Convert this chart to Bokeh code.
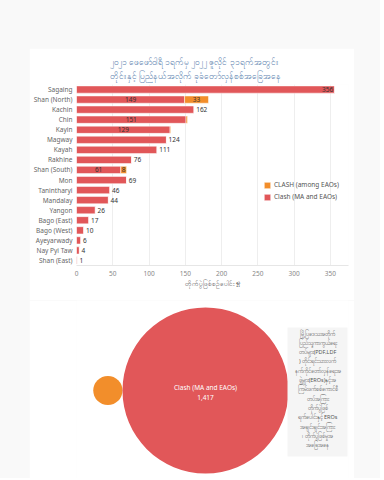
from bokeh.plotting import figure
from bokeh.models import (FactorRange, Range1d, ColumnDataSource, Legend, LegendItem,
                          Spacer, FixedTicker)
from bokeh.layouts import column, row
from bokeh.core.properties import value
from bokeh.embed import file_html
from bokeh.resources import INLINE

# ---------------- data ----------------
regions = ["Sagaing", "Shan (North)", "Kachin", "Chin", "Kayin", "Magway", "Kayah",
           "Rakhine", "Shan (South)", "Mon", "Tanintharyi", "Mandalay", "Yangon",
           "Bago (East)", "Bago (West)", "Ayeyarwady", "Nay Pyi Taw", "Shan (East)"]
clash_ma = [356, 149, 162, 151, 129, 124, 111, 76, 61, 69, 46, 44, 26, 17, 10, 6, 4, 1]
clash_eao = [0, 33, 0, 2, 1, 0, 0, 0, 8, 0, 0, 0, 0, 0, 0, 0, 0, 0]
series_names = ["CLASH (among EAOs)", "Clash (MA and EAOs)"]
bubble_values = [44, 1417]
x_ticks = [0, 50, 100, 150, 200, 250, 300, 350]

title_text = ("၂၀၂၁ ဖေဖော်ဝါရီ ၁ရက်မှ ၂၀၂၂ ဇူလိုင် ၃၁ရက်အတွင်း\n"
              "တိုင်းနှင့် ပြည်နယ်အလိုက်  ခုခံတော်လှန်စစ်အခြေအနေ")
x_label = "တိုက်ပွဲဖြစ်စဉ်ပေါင်း ፳"
note_lines = ["မြို့ပြဒေသအတိုက်", "ပြည်သူ့ကာကွယ်ရေး", "တပ်များ(PDF,LDF",
              ") တိုင်းရင်းသားလက်", "နက်ကိုင်တော်လှန်ရေးအ", "ဖွဲ့များ(EROs)နှင့်အ",
              "ကြမ်းဖက်စစ်ကောင်စီ", "တပ်အကြား", "တိုက်ပွဲဖြစ်",
              "ရက်ပေါင်းနှင့် EROs", "အချင်းချင်းအကြား", "၊ တိုက်ပွဲဖြစ်မှုအ", "အခြေအနေ"]

RED = "#e15759"
ORANGE = "#f28e2b"
FONT = "Noto Sans"
BL, BR = 47, 6   # frame borders shared by both panels

# ---------------- bar chart ----------------
p = figure(width=325, height=252, y_range=FactorRange(factors=regions[::-1]),
           x_range=Range1d(0, 375), output_backend="svg", toolbar_location=None,
           min_border_left=BL, min_border_right=BR, min_border_top=36, min_border_bottom=35)
p.outline_line_color = None
p.background_fill_color = "white"
p.border_fill_color = "white"

src = ColumnDataSource(dict(region=regions, red=clash_ma, orange=clash_eao))
r_stack = p.hbar_stack(["red", "orange"], y="region", height=0.72, color=[RED, ORANGE],
                       line_color="white", line_width=0.5, source=src)

# value labels
in_x, in_t, in_y = [], [], []
out_x, out_t, out_y = [], [], []
end_x, end_t, end_y = [], [], []
for reg, a, b in zip(regions, clash_ma, clash_eao):
    if b > 0:
        in_x.append(a / 2); in_t.append(str(a)); in_y.append(reg)
        if b >= 5:
            in_x.append(a + b / 2); in_t.append(str(b)); in_y.append(reg)
    elif a > 330:
        end_x.append(a - 2); end_t.append(str(a)); end_y.append(reg)
    else:
        out_x.append(a + 3); out_t.append(str(a)); out_y.append(reg)

common = dict(text_font=value(FONT), text_font_size="6.5px", text_color="#333333",
              text_baseline="middle")
p.text(x=in_x, y=in_y, text=in_t, text_align="center", **common)
p.text(x=out_x, y=out_y, text=out_t, text_align="left", **common)
p.text(x=end_x, y=end_y, text=end_t, text_align="right", **common)

p.title.text = title_text
p.title.align = "left"
p.title.offset = 33
p.title.text_color = "#5b7fae"
p.title.text_font = FONT
p.title.text_font_size = "8.5px"
p.title.text_font_style = "normal"
p.title.text_line_height = 1.3
p.title.standoff = 7

p.xaxis.ticker = FixedTicker(ticks=x_ticks)
p.xaxis.axis_label = x_label
p.xaxis.axis_label_text_font = FONT
p.xaxis.axis_label_text_font_size = "6.5px"
p.xaxis.axis_label_text_font_style = "normal"
p.xaxis.axis_label_text_color = "#555555"
p.xaxis.axis_label_standoff = 0
p.xaxis.major_label_text_font = FONT
p.xaxis.major_label_text_font_size = "6.5px"
p.xaxis.major_label_text_color = "#888888"
p.xaxis.major_tick_line_color = None
p.xaxis.minor_tick_line_color = None
p.xaxis.major_tick_out = 0
p.xaxis.major_tick_in = 0
p.xaxis.minor_tick_out = 0
p.xaxis.axis_line_color = "#e6e6e6"
p.xaxis.major_label_standoff = 5

p.yaxis.major_label_text_font = FONT
p.yaxis.major_label_text_font_size = "6.5px"
p.yaxis.major_label_text_color = "#666666"
p.yaxis.major_tick_line_color = None
p.yaxis.major_tick_out = 0
p.yaxis.major_tick_in = 0
p.yaxis.axis_line_color = None
p.yaxis.major_label_standoff = 4

p.xgrid.grid_line_color = "#eeeeee"
p.ygrid.grid_line_color = None

legend = Legend(items=[LegendItem(label=series_names[0], renderers=[r_stack[1]]),
                       LegendItem(label=series_names[1], renderers=[r_stack[0]])],
                location=(187, 64), padding=0, margin=0, spacing=3,
                glyph_width=8, glyph_height=8, label_text_font=FONT,
                label_text_font_size="6.5px", label_text_color="#555555",
                label_height=8, label_standoff=3,
                background_fill_alpha=0, border_line_alpha=0)
p.add_layout(legend)

# ---------------- bubble chart ----------------
# data units == pixels of this panel (x measured from the panel's left edge)
QW, QH = 325, 178
q = figure(width=QW, height=QH, x_range=Range1d(BL, QW - BR), y_range=Range1d(QH, 0),
           output_backend="svg", toolbar_location=None,
           min_border_left=BL, min_border_right=BR, min_border_top=0, min_border_bottom=0)
q.axis.visible = False
q.grid.visible = False
q.outline_line_color = None
q.background_fill_color = "white"
q.border_fill_color = "white"

max_r = 83
radii = [max_r * (v / max(bubble_values)) ** 0.5 for v in bubble_values]
cx_red, cy = 176, 90
centers_x = [cx_red - radii[1] - radii[0], cx_red]
q.circle(x=centers_x, y=[cy, cy], radius=radii, color=[ORANGE, RED], line_color=None)
q.text(x=[cx_red, cx_red], y=[cy - 3, cy + 7],
       text=[series_names[1], f"{bubble_values[1]:,}"],
       text_color="white", text_font=value(FONT), text_font_size="6.5px",
       text_align="center", text_baseline="middle")

# note box
q.quad(left=[258], right=[318], top=[27], bottom=[156], color="#f5f5f5", line_color=None)
note_y = [33 + i * 9.3 for i in range(len(note_lines))]
q.text(x=[288] * len(note_lines), y=note_y, text=note_lines, text_color="#555555",
       text_font=value(FONT), text_font_size="5.5px", text_align="center",
       text_baseline="middle")

layout = column(
    Spacer(width=380, height=48),
    row(Spacer(width=29, height=430), column(p, q), Spacer(width=26, height=430)),
    styles={"background-color": "#f9f9f9"},
)

html = file_html(layout, INLINE)
html = html.replace("<body>", '<body style="background-color:#f9f9f9">', 1)
open("out.html", "w").write(html)
